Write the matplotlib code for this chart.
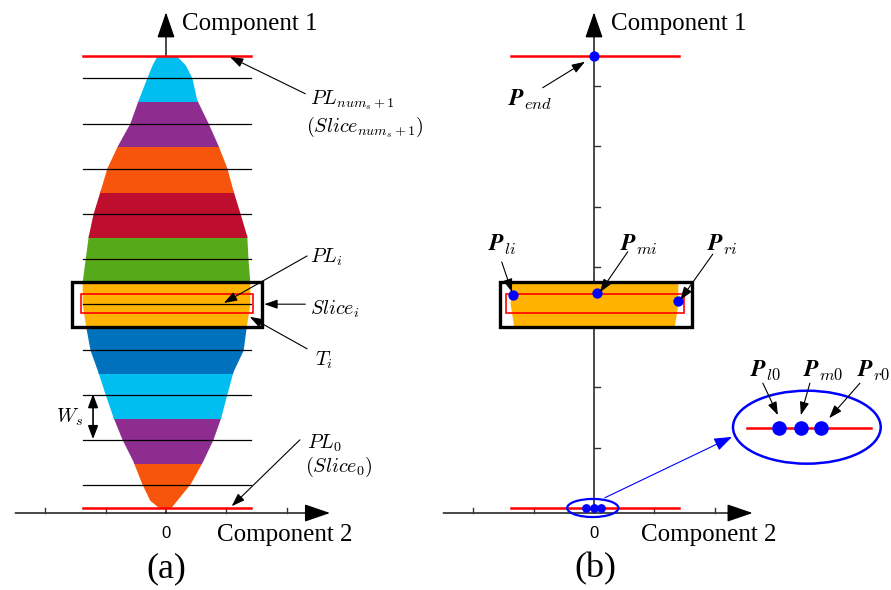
import numpy as np
import matplotlib
matplotlib.use("Agg")
import matplotlib.pyplot as plt
from matplotlib.patches import Rectangle, Ellipse

plt.rcParams['mathtext.fontset'] = 'cm'
plt.rcParams['font.family'] = ['Liberation Serif', 'DejaVu Serif']

# ---------------- data ----------------
num_s = 10                      # number of slices between PL0 and PL_{num_s+1}
W_s = 0.75                      # slice width along Component 1
band_colors = ['#F7550B', '#8E2D8F', '#00BEF0', '#0072BD', '#FFB300',
               '#56AA19', '#BE0E2E', '#F7550B', '#8E2D8F', '#00BEF0']  # bottom -> top
# outline of the sample cloud (Component 1 level, left / right extent on Component 2)
prof_y = [-0.02, 0.03, 0.13, 0.40, 0.78, 1.14, 1.51, 1.89, 2.26, 2.62, 3.00, 3.38,
          3.75, 4.13, 4.51, 4.88, 5.27, 5.64, 6.02, 6.38, 6.77, 7.13, 7.35, 7.50, 7.56]
prof_l = [-0.05, -0.15, -0.27, -0.40, -0.55, -0.73, -0.88, -1.01, -1.13, -1.26, -1.33, -1.39,
          -1.39, -1.34, -1.29, -1.21, -1.09, -0.98, -0.80, -0.60, -0.46, -0.32, -0.23, -0.15, -0.10]
prof_r = [0.03, 0.10, 0.18, 0.40, 0.61, 0.78, 0.91, 1.01, 1.11, 1.28, 1.33, 1.39,
          1.39, 1.36, 1.34, 1.23, 1.11, 1.01, 0.86, 0.70, 0.51, 0.43, 0.32, 0.17, 0.10]
line_x = [-1.38, 1.41]          # extent of PL lines
sel = 4                         # index of the highlighted slice (T_i)
x_ticks = [-2, -1, 1, 2]
y_ticks = [1, 2, 3, 4, 5, 6, 7]
# points in panel (b)
P_slice_x = [-1.34, 0.05, 1.39]
P_slice_y = [3.53, 3.56, 3.43]
P0_x = [-0.13, 0.0, 0.12]
P0_zoom_x = [3.07, 3.43, 3.76]

S = 60.3                        # pixels per unit
FW, FH = 891, 590
fig = plt.figure(figsize=(FW / 100, FH / 100), dpi=100)
ox_a, ox_b, oy = 166, 594, 508
ylim = ((oy - FH) / S, oy / S)
ax1 = fig.add_axes([0, 0, 0.5, 1])
ax1.set_xlim(-ox_a / S, (FW / 2 - ox_a) / S)
ax2 = fig.add_axes([0.5, 0, 0.5, 1])
ax2.set_xlim(-(ox_b - FW / 2) / S, (FW - ox_b) / S)
for ax in (ax1, ax2):
    ax.set_ylim(*ylim)
    ax.axis('off')

axis_col = '#333333'
big_head = '-|>,head_length=1.6,head_width=0.55'
small_head = '-|>,head_length=0.8,head_width=0.28'
mfs = 14.5
pfs = 17
tfs = 18
top = num_s * W_s


def axes_arrows(ax, xend, xstart):
    ya = -0.083
    ax.annotate('', xy=(xend, ya), xytext=(xstart, ya),
                arrowprops=dict(arrowstyle=big_head, color='k', lw=1.0,
                                shrinkA=0, shrinkB=0), zorder=1)
    ax.annotate('', xy=(0, 8.22), xytext=(0, ya),
                arrowprops=dict(arrowstyle=big_head, color='k', lw=1.0,
                                shrinkA=0, shrinkB=0), zorder=1)
    for t in x_ticks:
        ax.plot([t, t], [ya, ya + 0.09], color=axis_col, lw=1.0, zorder=1)
    for t in y_ticks:
        ax.plot([0, 0.1], [t, t], color=axis_col, lw=1.0, zorder=1)
    ax.text(0, -0.42, '0', ha='center', va='center', fontsize=12,
            family='Liberation Sans')


def band(ax, k):
    poly = ax.fill_betweenx(prof_y, prof_l, prof_r, color=band_colors[k], lw=0,
                            zorder=2)
    clip = Rectangle((-3, k * W_s - 0.004), 6, W_s + 0.008, transform=ax.transData)
    poly.set_clip_path(clip)


def ann(ax, s, xy, xytext, color='k', lw=0.8, style=small_head):
    ax.annotate(s, xy=xy, xytext=xytext,
                arrowprops=dict(arrowstyle=style, color=color, lw=lw,
                                shrinkA=0, shrinkB=0), zorder=6)


# ---------------- panel (a) ----------------
axes_arrows(ax1, 2.72, -2.5)
for k in range(num_s):
    band(ax1, k)
for k in range(num_s):
    y = W_s / 2 + k * W_s
    ax1.plot(line_x, [y, y], color='k', lw=0.9, zorder=3)
for y in (0, top):
    ax1.plot(line_x, [y, y], color='red', lw=1.8, zorder=3)
ax1.add_patch(Rectangle((-1.56, sel * W_s), 3.15, W_s, fill=False, ec='k', lw=2.4, zorder=4))
ax1.add_patch(Rectangle((-1.41, 3.23), 2.85, 0.32, fill=False, ec='red', lw=1.2, zorder=4))

ax1.text(0.27, 8.03, 'Component 1', fontsize=tfs, va='center', ha='left')
ax1.text(0.85, -0.45, 'Component 2', fontsize=tfs, va='center', ha='left')
ax1.text(0, -1.01, '(a)', fontsize=26, va='center', ha='center')

ann(ax1, '', (1.06, 7.48), (2.31, 6.87))
ax1.text(2.39, 6.77, r'$PL_{num_s+1}$', fontsize=mfs, va='center')
ax1.text(2.33, 6.32, r'$(Slice_{num_s+1})$', fontsize=mfs, va='center')
ann(ax1, '', (0.96, 3.40), (2.34, 4.18))
ax1.text(2.39, 4.15, r'$PL_i$', fontsize=mfs, va='center')
ann(ax1, '', (1.63, 3.38), (2.31, 3.38))
ax1.text(2.39, 3.30, r'$Slice_i$', fontsize=mfs, va='center')
ann(ax1, '', (1.39, 3.17), (2.34, 2.64))
ax1.text(2.47, 2.45, r'$T_i$', fontsize=mfs, va='center')
ax1.annotate('', xy=(-1.21, 1.89), xytext=(-1.21, 1.14),
             arrowprops=dict(arrowstyle='<|-|>,head_length=0.8,head_width=0.3',
                             color='k', lw=1.2, shrinkA=0, shrinkB=0), zorder=6)
ax1.text(-1.38, 1.51, r'$W_s$', fontsize=mfs, va='center', ha='right')
ann(ax1, '', (1.09, 0.03), (2.22, 1.13))
ax1.text(2.34, 1.08, r'$PL_0$', fontsize=mfs, va='center')
ax1.text(2.30, 0.68, r'$(Slice_0)$', fontsize=mfs, va='center')

# ---------------- panel (b) ----------------
axes_arrows(ax2, 2.63, -2.5)
band(ax2, sel)
for y in (0, top):
    ax2.plot(line_x, [y, y], color='red', lw=1.8, zorder=3)
ax2.add_patch(Rectangle((-1.56, sel * W_s), 3.19, W_s, fill=False, ec='k', lw=2.4, zorder=4))
ax2.add_patch(Rectangle((-1.46, 3.23), 2.95, 0.32, fill=False, ec='red', lw=1.2, zorder=4))
ax2.scatter(P_slice_x, P_slice_y, s=55, color='blue', zorder=5, lw=0)
ax2.scatter([0], [top], s=55, color='blue', zorder=5, lw=0)
ax2.scatter(P0_x, [0] * len(P0_x), s=40, color='blue', zorder=5, lw=0)
ax2.add_patch(Ellipse((-0.02, 0.0), 0.85, 0.30, fill=False, ec='blue', lw=1.6, zorder=5))
ax2.add_patch(Ellipse((3.53, 1.34), 2.45, 1.21, fill=False, ec='blue', lw=1.8,
                      zorder=5, clip_on=False))
ax2.plot([2.54, 4.59], [1.33, 1.33], color='red', lw=1.8, zorder=4, clip_on=False)
ax2.scatter(P0_zoom_x, [1.33] * len(P0_zoom_x), s=110, color='blue', zorder=5, lw=0,
            clip_on=False)
ann(ax2, '', (2.29, 1.18), (0.18, 0.17), color='blue', lw=0.8,
    style='-|>,head_length=1.1,head_width=0.4')

ax2.text(0.28, 8.03, 'Component 1', fontsize=tfs, va='center', ha='left')
ax2.text(0.78, -0.45, 'Component 2', fontsize=tfs, va='center', ha='left')
ax2.text(0.03, -1.01, '(b)', fontsize=26, va='center', ha='center')

ann(ax2, '', (-0.15, 7.40), (-0.85, 6.97))
ax2.text(-1.43, 6.77, r'$\boldsymbol{P}_{end}$', fontsize=pfs, va='center')
ann(ax2, '', (-1.36, 3.58), (-1.53, 4.08))
ax2.text(-1.76, 4.36, r'$\boldsymbol{P}_{li}$', fontsize=pfs, va='center')
ann(ax2, '', (0.10, 3.58), (0.56, 4.25))
ax2.text(0.43, 4.36, r'$\boldsymbol{P}_{mi}$', fontsize=pfs, va='center')
ann(ax2, '', (1.43, 3.45), (1.97, 4.21))
ax2.text(1.87, 4.36, r'$\boldsymbol{P}_{ri}$', fontsize=pfs, va='center')
ann(ax2, '', (3.05, 1.54), (2.80, 2.07))
ax2.text(2.59, 2.29, r'$\boldsymbol{P}_{l0}$', fontsize=pfs, va='center')
ann(ax2, '', (3.43, 1.54), (3.58, 2.07))
ax2.text(3.47, 2.29, r'$\boldsymbol{P}_{m0}$', fontsize=pfs, va='center')
ann(ax2, '', (3.90, 1.49), (4.41, 2.07))
ax2.text(4.36, 2.29, r'$\boldsymbol{P}_{r0}$', fontsize=pfs, va='center')

fig.savefig('out.png', dpi=100)
